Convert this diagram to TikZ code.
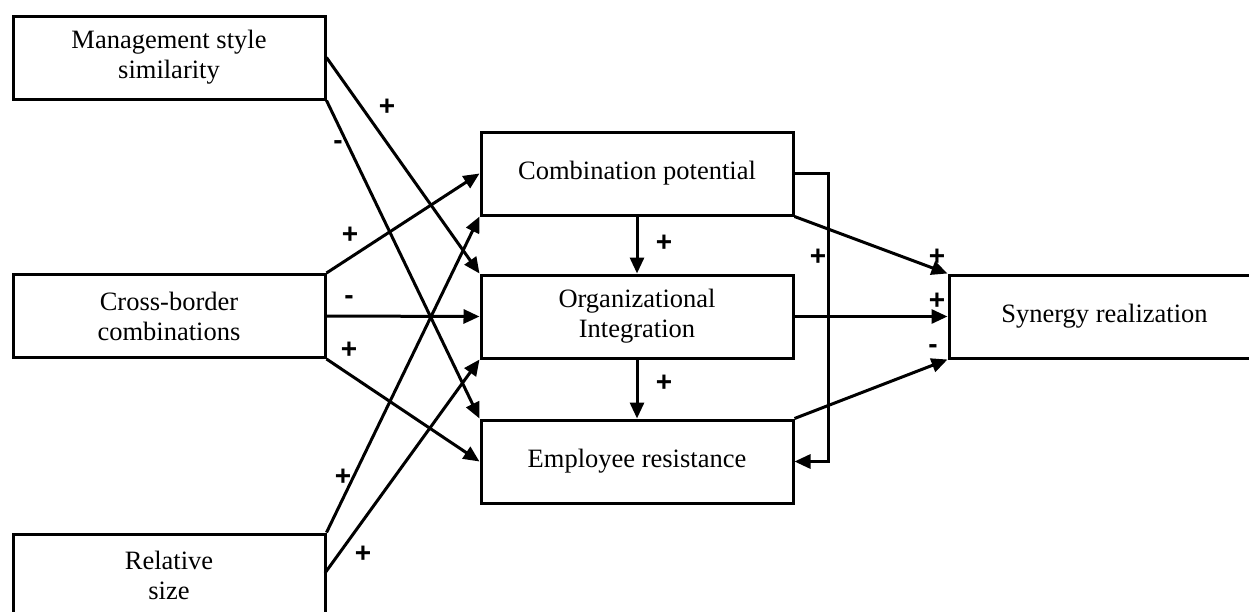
\documentclass[tikz,border=0pt]{standalone}
\usepackage{fontspec}
\setmainfont{Liberation Serif}
\newfontfamily\signfont{Liberation Sans}
\usetikzlibrary{arrows.meta}
\tikzset{
  box/.style={draw, line width=3pt, minimum width=312pt, minimum height=83pt,
    inner sep=0pt, align=center, font=\fontsize{26.5}{30}\selectfont},
  link/.style={line width=3pt, -{Triangle[length=16pt,width=14pt]}},
  sign/.style={inner sep=0pt, font=\signfont\bfseries\fontsize{28}{28}\selectfont}
}
\begin{document}
\begin{tikzpicture}[x=1pt,y=-1pt]
\useasboundingbox (0,0) rectangle (1249,611);
% factor boxes on the left
\node[box] (mgmt)  at (169,57.5)  {Management style\\similarity};
\node[box] (cross) at (169,316)   {Cross-border\\combinations};
\node[box] (rel)   at (169,575.5) {Relative\\size};
% mediating boxes
\node[box] (comb) at (637,173.5) {Combination potential};
\node[box] (org)  at (637,316.5) {Organizational\\Integration};
\node[box] (emp)  at (637,461.5) {Employee resistance};
% outcome
\node[box, minimum width=311pt] (syn) at (1104.5,316.5) {Synergy realization};

% paths into the mediators
\draw[link] (mgmt.east) -- (org.north west);
\draw[link] (mgmt.south east) -- (emp.north west);
\draw[link] (cross.north east) -- (comb.west);
\draw[link] (cross.east) -- (org.west);
\draw[link] (cross.south east) -- (emp.west);
\draw[link] (rel.north east) -- (comb.south west);
\coordinate (relout) at (325,573);
\draw[link] (relout) -- (org.south west);

% links between the mediators
\draw[link] (comb.south) -- (org.north);
\draw[link] (org.south) -- (emp.north);
\coordinate (fbtop) at (828,173.5);
\coordinate (fbbot) at (828,461.5);
\draw[link] (comb.east) -- (fbtop) -- (fbbot) -- (emp.east);

% paths into the outcome
\draw[link] (comb.south east) -- (syn.north west);
\draw[link] (org.east) -- (syn.west);
\draw[link] (emp.north east) -- (syn.south west);

% signs of the effects
\node[sign] (s1)  at (387,107) {+};
\node[sign] (s2)  at (338,145) {-};
\node[sign] (s3)  at (350,235) {+};
\node[sign] (s4)  at (349,300) {-};
\node[sign] (s5)  at (349,350) {+};
\node[sign] (s6)  at (343,477) {+};
\node[sign] (s7)  at (363,554) {+};
\node[sign] (s8)  at (664,243) {+};
\node[sign] (s9)  at (664,383) {+};
\node[sign] (s10) at (818,257) {+};
\node[sign] (s11) at (937,257) {+};
\node[sign] (s12) at (937,301) {+};
\node[sign] (s13) at (933,349) {-};
\end{tikzpicture}
\end{document}
